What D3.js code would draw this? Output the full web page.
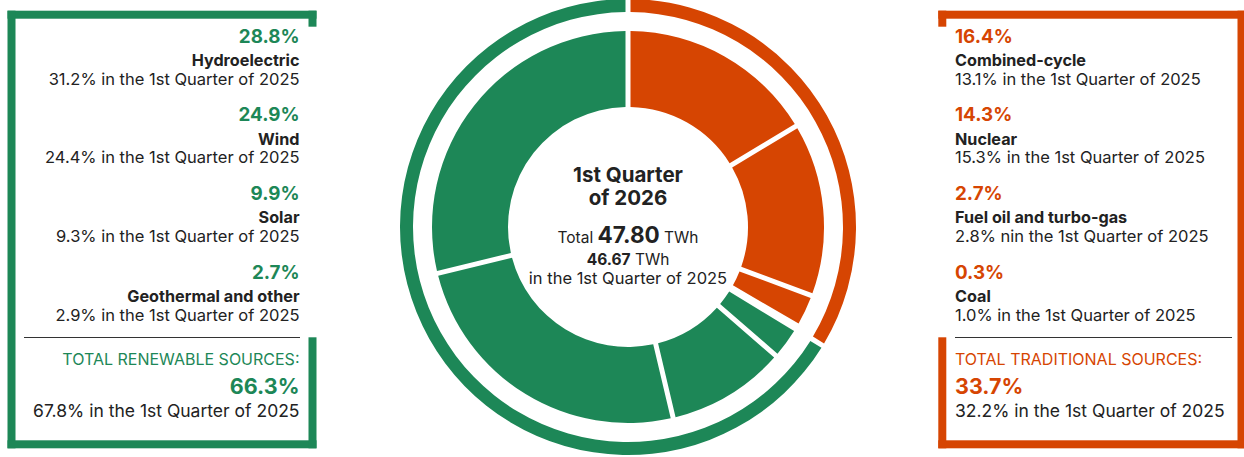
<!DOCTYPE html>
<html>
<head>
<meta charset="utf-8">
<script src="https://cdn.jsdelivr.net/npm/d3@7"></script>
<style>
  html, body { margin: 0; padding: 0; background: #fff; }
  svg { display: block; font-family: "Inter", "Liberation Sans", sans-serif; }
</style>
</head>
<body>
<svg id="chart" width="1244" height="457"></svg>
<script>
// ---- data ----
const sources = ["Combined-cycle", "Nuclear", "Fuel oil and turbo-gas", "Coal",
                 "Geothermal and other", "Solar", "Wind", "Hydroelectric"];
const sourceGroup = ["traditional", "traditional", "traditional", "traditional",
                     "renewable", "renewable", "renewable", "renewable"];
const share2026 = [16.4, 14.3, 2.7, 0.3, 2.7, 9.9, 24.9, 28.8];
const share2025Labels = [
  "13.1% in the 1st Quarter of 2025",
  "15.3% in the 1st Quarter of 2025",
  "2.8% nin the 1st Quarter of 2025",
  "1.0% in the 1st Quarter of 2025",
  "2.9% in the 1st Quarter of 2025",
  "9.3% in the 1st Quarter of 2025",
  "24.4% in the 1st Quarter of 2025",
  "31.2% in the 1st Quarter of 2025"
];
const groups = ["traditional", "renewable"];
const groupTitles = ["TOTAL TRADITIONAL SOURCES:", "TOTAL RENEWABLE SOURCES:"];
const groupShare2026 = [33.7, 66.3];
const groupShare2025Labels = ["32.2% in the 1st Quarter of 2025", "67.8% in the 1st Quarter of 2025"];
const centerTitle = ["1st Quarter", "of 2026"];
const totalTWh2026 = "47.80";
const totalTWh2025 = "46.67";

// ---- styles ----
const color = d3.scaleOrdinal().domain(groups).range(["#d64502", "#1d8757"]);
const dark = "#222222";

const svg = d3.select("#chart");
const cx = 628, cy = 227;

// ---- donut ----
const pie = d3.pie().sort(null).value(d => d);
const arcInner = d3.arc().innerRadius(120).outerRadius(196).padAngle(5 / 200).padRadius(200);
const arcOuter = d3.arc().innerRadius(215).outerRadius(228).padAngle(5 / 220).padRadius(220);

const g = svg.append("g").attr("transform", `translate(${cx},${cy})`);
g.selectAll("path.inner")
  .data(pie(share2026))
  .join("path")
  .attr("class", "inner")
  .attr("d", arcInner)
  .attr("fill", (d, i) => color(sourceGroup[i]));

g.selectAll("path.outer")
  .data(pie(groupShare2026))
  .join("path")
  .attr("class", "outer")
  .attr("d", arcOuter)
  .attr("fill", (d, i) => color(groups[i]));

// center text
const ct = g.append("g").attr("text-anchor", "middle").attr("fill", dark);
ct.append("text").attr("y", -45.5).attr("font-size", 20.5).attr("font-weight", 700).text(centerTitle[0]);
ct.append("text").attr("y", -22.5).attr("font-size", 20.5).attr("font-weight", 700).text(centerTitle[1]);
const t1 = ct.append("text").attr("y", 15.5);
t1.append("tspan").attr("font-size", 15.5).text("Total ");
t1.append("tspan").attr("font-size", 22.5).attr("font-weight", 700).text(totalTWh2026);
t1.append("tspan").attr("font-size", 15.5).text(" TWh");
const t2 = ct.append("text").attr("y", 37.8);
t2.append("tspan").attr("font-size", 15.5).attr("font-weight", 700).text(totalTWh2025);
t2.append("tspan").attr("font-size", 15.5).text(" TWh");
ct.append("text").attr("y", 57).attr("font-size", 16.5).text("in the 1st Quarter of 2025");

// ---- side panels ----
function bracket(side) {
  const c = side === "left" ? color("renewable") : color("traditional");
  const p = svg.append("g").attr("fill", c);
  const T = 8;
  if (side === "left") {
    const x0 = 7.5, x1 = 316.5, y0 = 10.7, y1 = 448.3;
    p.append("rect").attr("x", x0).attr("y", y0).attr("width", x1 - x0).attr("height", T);
    p.append("rect").attr("x", x0).attr("y", y0).attr("width", T).attr("height", y1 - y0);
    p.append("rect").attr("x", x0).attr("y", y1 - T).attr("width", x1 - x0).attr("height", T);
    p.append("rect").attr("x", x1 - T).attr("y", y0).attr("width", T).attr("height", 16);
    p.append("rect").attr("x", x1 - T).attr("y", 337.3).attr("width", T).attr("height", y1 - 337.3);
  } else {
    const x0 = 938.3, x1 = 1245.5, y0 = 10.7, y1 = 448.3;
    p.append("rect").attr("x", x0).attr("y", y0).attr("width", x1 - x0).attr("height", T);
    p.append("rect").attr("x", x1 - T).attr("y", y0).attr("width", T).attr("height", y1 - y0);
    p.append("rect").attr("x", x0).attr("y", y1 - T).attr("width", x1 - x0).attr("height", T);
    p.append("rect").attr("x", x0).attr("y", y0).attr("width", T).attr("height", 16);
    p.append("rect").attr("x", x0).attr("y", 337.3).attr("width", T).attr("height", y1 - 337.3);
  }
}
bracket("left");
bracket("right");

function panel(group, x, anchor, sepX0, sepX1) {
  const gi = groups.indexOf(group);
  const idx = sources.map((s, i) => i).filter(i => sourceGroup[i] === group);
  // left panel lists hydro first (reverse order)
  const order = group === "renewable" ? idx.slice().reverse() : idx;
  const pg = svg.append("g").attr("text-anchor", anchor);
  const step = 78.7;
  order.forEach((i, k) => {
    const base = 42.7 + k * step;
    pg.append("text").attr("x", x).attr("y", base).attr("font-size", 18.8).attr("font-weight", 700)
      .attr("fill", color(group)).text(d3.format(".1f")(share2026[i]) + "%");
    pg.append("text").attr("x", x).attr("y", base + 23.3).attr("font-size", 16.2).attr("font-weight", 700)
      .attr("fill", dark).text(sources[i]);
    pg.append("text").attr("x", x).attr("y", base + 41.8).attr("font-size", 16.5)
      .attr("fill", dark).text(share2025Labels[i]);
  });
  svg.append("line").attr("x1", sepX0).attr("x2", sepX1).attr("y1", 337.5).attr("y2", 337.5)
    .attr("stroke", "#333").attr("stroke-width", 1.2);
  pg.append("text").attr("x", x).attr("y", 365).attr("font-size", 16).attr("fill", color(group))
    .text(groupTitles[gi]);
  pg.append("text").attr("x", x).attr("y", 394).attr("font-size", 21.5).attr("font-weight", 700)
    .attr("fill", color(group)).text(d3.format(".1f")(groupShare2026[gi]) + "%");
  pg.append("text").attr("x", x).attr("y", 416.7).attr("font-size", 17.5).attr("fill", dark)
    .text(groupShare2025Labels[gi]);
}
panel("renewable", 299.5, "end", 24, 300);
panel("traditional", 955, "start", 955, 1232);
</script>
</body>
</html>
